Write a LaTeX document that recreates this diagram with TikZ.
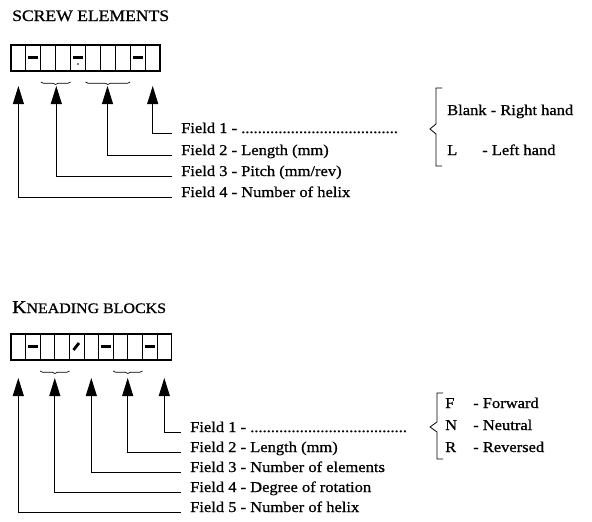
\documentclass[tikz,border=0pt]{standalone}
\usepackage{fontspec}
\setmainfont{Liberation Serif}[FakeStretch=1.1,FakeBold=0.8]
\usetikzlibrary{arrows.meta,decorations.pathreplacing}

\begin{document}
\begin{tikzpicture}[x=1pt,y=-1pt,
  lbl/.style={anchor=base west,inner sep=0pt,font=\fontsize{15}{18}\selectfont},
  ttl/.style={anchor=base west,inner sep=0pt},
  lead/.style={-{Triangle[width=11pt,length=18pt]},line width=0.8pt},
  bar/.style={line width=3.2pt},
  ubrace/.style={decorate,decoration={brace,mirror,amplitude=2.5pt},line width=0.7pt}]
  \useasboundingbox (0,0) rectangle (592,522);

  % screw elements: ten cells
  \node[ttl,font=\fontsize{16}{18}\selectfont] (stitle) at (12,21) {SCREW ELEMENTS};
  \foreach \i in {0,...,10}
    \coordinate (s\i) at (11+\i*14.9,45);
  \draw[line width=1.4pt] (s0) rectangle (160,71);
  \foreach \i in {1,...,9}
    \draw[line width=0.9pt] (s\i) -- ++(0,26);
  \foreach \c in {2,5,9}
    \draw[bar] ([xshift=-12.6pt,yshift=-12.5pt]s\c) -- ([xshift=-2.4pt,yshift=-12.5pt]s\c);
  \fill ([xshift=-7.5pt,yshift=-19pt]s5) circle (0.8pt);
  \draw[ubrace] ([yshift=-37pt]s2) -- ([yshift=-37pt]s4);
  \draw[ubrace] ([yshift=-37pt]s5) -- ([yshift=-37pt]s8);

  \coordinate (sa1) at (152.7,86);
  \coordinate (sa2) at (107.5,86);
  \coordinate (sa3) at (56.3,86);
  \coordinate (sa4) at (18.4,86);
  \node[lbl] (sf1) at (181,133) {Field 1 - ......................................};
  \node[lbl] (sf2) at (181,155) {Field 2 - Length (mm)};
  \node[lbl] (sf3) at (181,176) {Field 3 - Pitch (mm/rev)};
  \node[lbl] (sf4) at (181,197) {Field 4 - Number of helix};
  \foreach \k in {1,...,4}
    \draw[lead] ([xshift=-9pt]sf\k.base west) -| (sa\k);

  \draw[line width=0.8pt] (442,88) -- (436,88) -- (436,124) -- (430,129) -- (436,134) -- (436,166) -- (442,166);
  \node[lbl] (blank) at (447,115) {Blank - Right hand};
  \node[lbl] (lh) at (447,155) {L};
  \node[lbl] (lhtxt) at (482,155) {- Left hand};

  % kneading blocks: eleven cells
  \node[ttl] (ktitle) at (12,313) {\fontsize{18}{20}\selectfont K\fontsize{14.5}{18}\selectfont NEADING BLOCKS};
  \foreach \i in {0,...,11}
    \coordinate (k\i) at (11+\i*14.6,334);
  \draw[line width=1.4pt] (k0) rectangle (171.6,360);
  \foreach \i in {1,...,10}
    \draw[line width=0.9pt] (k\i) -- ++(0,26);
  \foreach \c in {2,7,10}
    \draw[bar] ([xshift=-12.4pt,yshift=-12.5pt]k\c) -- ([xshift=-2.2pt,yshift=-12.5pt]k\c);
  \draw[line width=2.8pt] ([xshift=-10.5pt,yshift=-16pt]k5) -- ([xshift=-5pt,yshift=-9pt]k5);
  \draw[ubrace] ([yshift=-37pt]k2) -- ([yshift=-37pt]k4);
  \draw[ubrace] ([yshift=-37pt]k7) -- ([yshift=-37pt]k9);

  \coordinate (ka1) at (164.3,378);
  \coordinate (ka2) at (127.7,378);
  \coordinate (ka3) at (91.3,378);
  \coordinate (ka4) at (54.8,378);
  \coordinate (ka5) at (18.3,378);
  \node[lbl] (kf1) at (190,432) {Field 1 - ......................................};
  \node[lbl] (kf2) at (190,452) {Field 2 - Length (mm)};
  \node[lbl] (kf3) at (190,472) {Field 3 - Number of elements};
  \node[lbl] (kf4) at (190,492) {Field 4 - Degree of rotation};
  \node[lbl] (kf5) at (190,512) {Field 5 - Number of helix};
  \foreach \k in {1,...,5}
    \draw[lead] ([xshift=-9pt]kf\k.base west) -| (ka\k);

  \draw[line width=0.8pt] (443,393) -- (437,393) -- (437,422) -- (430,427) -- (437,432) -- (437,459) -- (443,459);
  \node[lbl] (fw) at (445,408) {F};
  \node[lbl] (fwtxt) at (473,408) {- Forward};
  \node[lbl] (nt) at (445,430) {N};
  \node[lbl] (nttxt) at (473,430) {- Neutral};
  \node[lbl] (rv) at (445,452) {R};
  \node[lbl] (rvtxt) at (473,452) {- Reversed};
\end{tikzpicture}
\end{document}
